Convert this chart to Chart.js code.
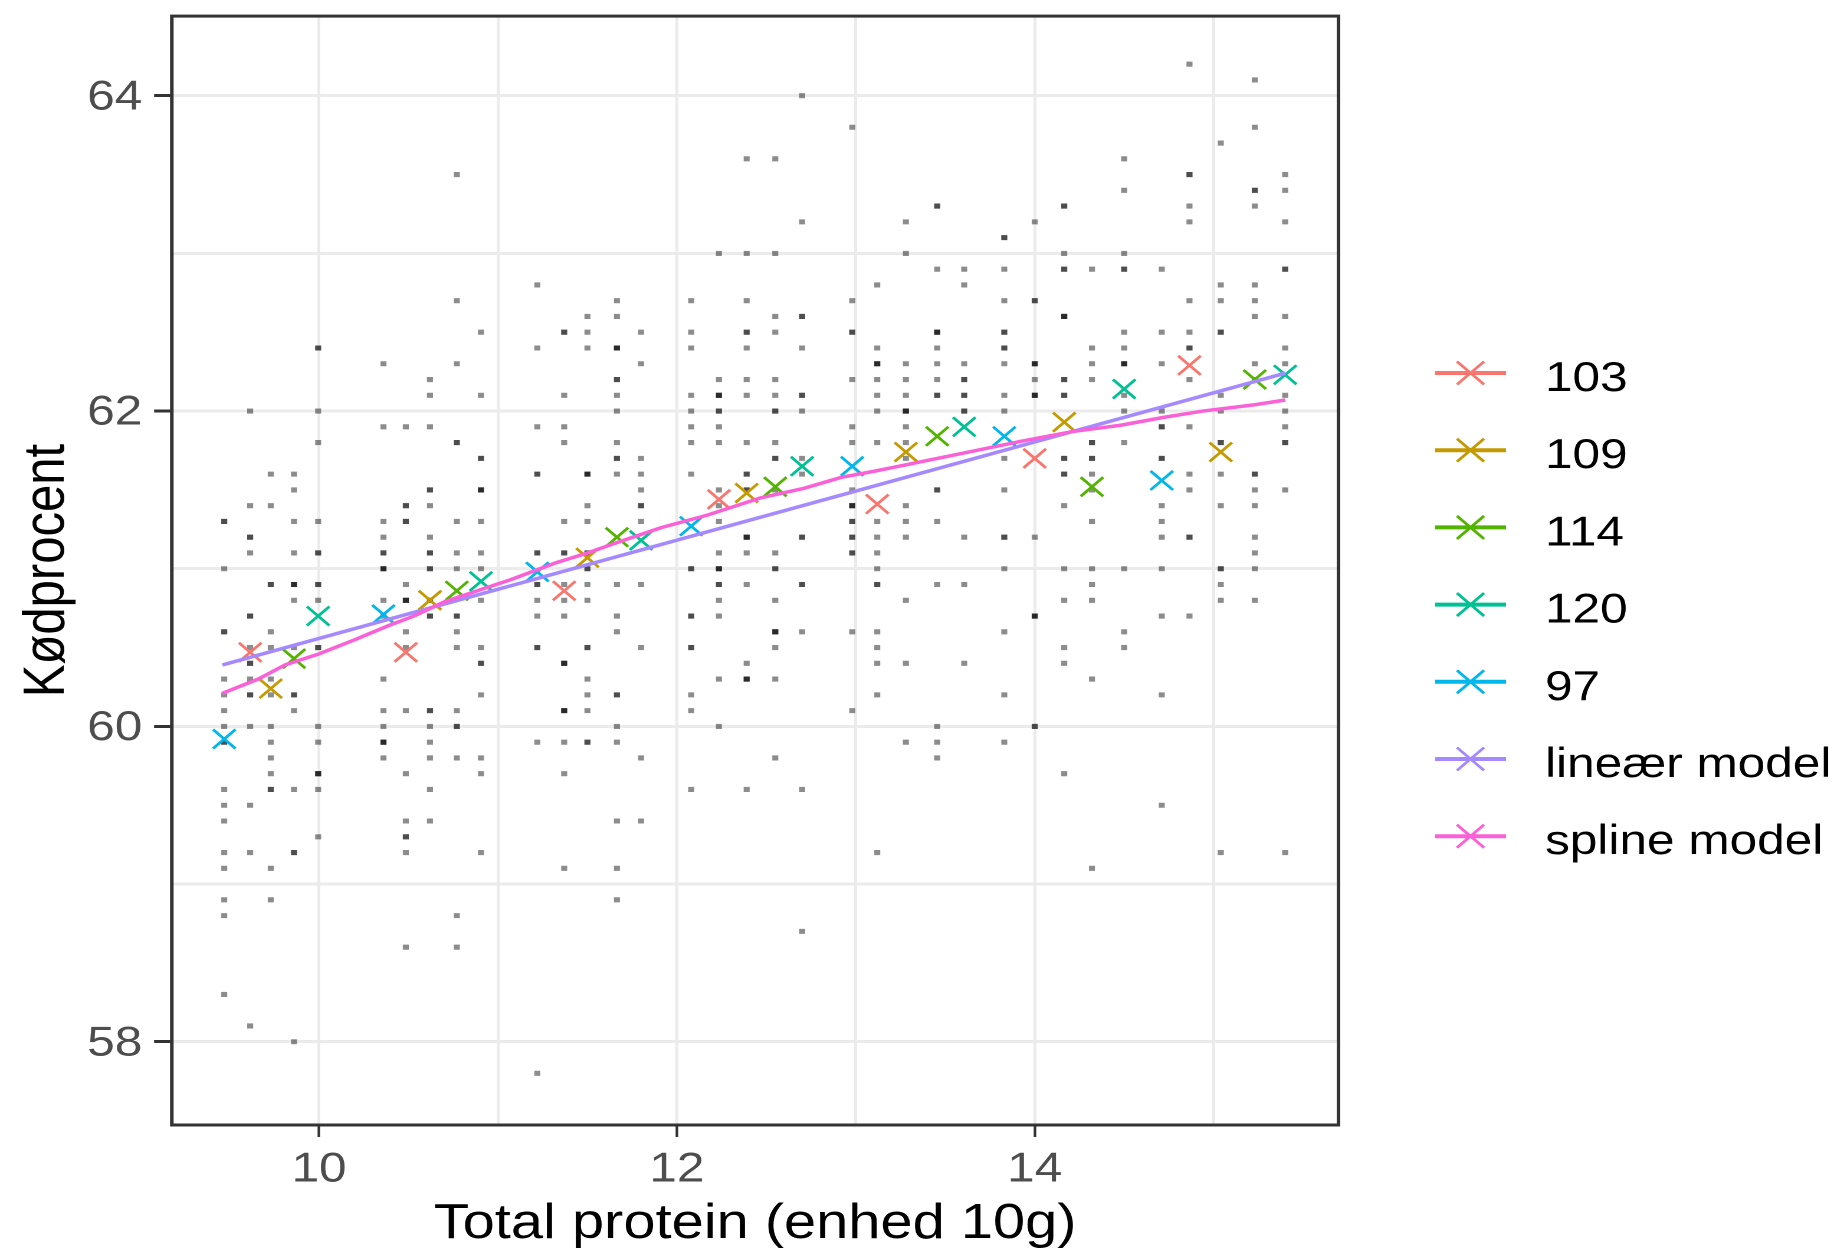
<!DOCTYPE html>
<html>
<head>
<meta charset="utf-8">
<title>Kødprocent vs Total protein</title>
<script src="https://cdn.jsdelivr.net/npm/chart.js@4.4.1/dist/chart.umd.min.js"></script>
<style>
  html, body { margin: 0; padding: 0; background: #ffffff; overflow: hidden; }
  #wrap { position: absolute; left: 0; top: 0; width: 1563px; height: 1252px; transform-origin: 0 0; }
</style>
</head>
<body>
<div id="wrap"><canvas id="chart"></canvas></div>
<script>
// ---------------- DATA ----------------
const xTitle = 'Total protein (enhed 10g)';
const yTitle = 'Kødprocent';

const xMajor = [10, 12, 14];
const xMinor = [11, 13, 15];
const yMajor = [58, 60, 62, 64];
const yMinor = [59, 61, 63];
const xMin = 9.177, xMax = 15.698;
const yMin = 57.472, yMax = 64.505;

const groupLabels = ['103', '109', '114', '120', '97'];
const modelLabels = ['lineær model', 'spline model'];

// group 97
const protein97 = [9.47, 10.36, 11.22, 12.08, 12.98, 13.83, 14.71];
const kod97 = [
  [61.3, 61.3, 61.0, 60.6, 60.6, 60.3, 60.2, 60.1, 60.0, 59.9, 59.9, 59.6, 59.5, 59.4, 59.2, 59.1, 58.9, 58.8, 58.3],
  [62.3, 61.9, 61.3, 61.2, 61.1, 61.1, 61.0, 61.0, 61.0, 60.8, 60.7, 60.3, 60.1, 60.0, 59.9, 59.9, 59.9, 59.8],
  [62.8, 62.4, 61.9, 61.6, 61.6, 61.1, 61.1, 60.9, 60.9, 60.8, 60.7, 60.5, 60.5, 59.9, 57.8],
  [62.7, 62.5, 62.4, 62.1, 62.0, 61.9, 61.8, 61.6, 61.0, 61.0, 60.7, 60.7, 60.5, 60.5, 60.2, 60.1, 59.6],
  [63.8, 62.7, 62.5, 62.5, 62.2, 61.9, 61.8, 61.5, 61.4, 61.4, 61.4, 61.3, 61.3, 61.2, 61.2, 61.1, 61.1, 60.6, 60.1],
  [63.1, 63.1, 62.9, 62.7, 62.5, 62.5, 62.4, 62.4, 62.3, 62.1, 62.0, 61.7, 61.5, 61.2, 61.2, 61.0, 60.6, 60.2, 59.9],
  [62.9, 62.5, 62.3, 62.0, 61.9, 61.9, 61.7, 61.7, 61.4, 61.3, 61.2, 61.0, 60.7, 60.2, 59.5]
];
const mean97 = [59.92, 60.71, 60.98, 61.27, 61.65, 61.84, 61.56];

// group 103
const protein103 = [9.615, 10.485, 11.37, 12.235, 13.12, 14.0, 14.865];
const kod103 = [
  [62.0, 61.4, 61.2, 61.2, 61.1, 60.7, 60.7, 60.5, 60.4, 60.4, 60.3, 60.2, 60.2, 60.0, 59.5, 59.2, 58.1],
  [61.9, 61.4, 61.4, 61.3, 61.3, 60.9, 60.8, 60.8, 60.8, 60.6, 60.5, 60.1, 59.7, 59.4, 59.3, 59.3, 59.2, 58.6],
  [62.5, 62.5, 62.1, 61.9, 61.8, 61.3, 61.1, 61.1, 60.9, 60.8, 60.7, 60.4, 60.4, 60.4, 60.1, 60.1, 60.1, 59.9, 59.7, 59.1],
  [63.0, 62.2, 62.1, 62.1, 62.1, 62.0, 62.0, 61.9, 61.8, 61.5, 61.4, 61.3, 61.1, 61.0, 61.0, 61.0, 60.9, 60.9, 60.8, 60.7, 60.3, 60.0],
  [62.8, 62.4, 62.3, 62.3, 62.3, 62.2, 62.1, 62.0, 61.8, 61.3, 61.2, 61.1, 61.0, 60.9, 60.9, 60.6, 60.5, 60.4, 60.2, 59.2],
  [63.2, 62.7, 62.7, 62.3, 62.3, 62.3, 62.2, 62.1, 62.1, 62.1, 61.2, 60.7, 60.7, 60.7, 60.0, 60.0],
  [64.2, 63.5, 63.5, 63.3, 63.2, 62.7, 62.5, 62.4, 62.4, 62.2, 61.9, 61.6, 61.5, 61.2, 61.2, 60.7]
];
const mean103 = [60.47, 60.47, 60.86, 61.44, 61.41, 61.70, 62.29];

// group 109
const protein109 = [9.73, 10.62, 11.50, 12.39, 13.28, 14.165, 15.04];
const kod109 = [
  [61.6, 61.4, 60.9, 60.9, 60.6, 60.5, 60.3, 60.2, 60.0, 59.9, 59.8, 59.7, 59.6, 59.6, 59.1, 58.9],
  [62.2, 62.1, 61.9, 61.5, 61.5, 61.4, 61.2, 61.1, 61.1, 61.0, 61.0, 60.8, 60.8, 60.7, 60.7, 60.1, 60.1, 60.0, 59.9, 59.8, 59.6, 59.4],
  [62.6, 62.5, 62.4, 61.6, 61.6, 61.6, 61.4, 61.3, 61.1, 61.1, 61.0, 61.0, 60.9, 60.8, 60.5, 60.5, 60.3, 60.2, 60.1, 59.9, 59.9],
  [63.6, 63.0, 62.7, 62.5, 62.5, 62.4, 62.2, 62.1, 61.8, 61.6, 61.6, 61.5, 61.5, 61.2, 61.2, 61.2, 61.1, 60.9, 60.4, 60.3, 60.3, 60.3, 59.6],
  [63.2, 63.0, 62.3, 62.2, 62.1, 62.0, 62.0, 62.0, 61.9, 61.8, 61.7, 61.4, 61.3, 61.2, 60.8, 60.4, 59.9],
  [63.3, 63.3, 63.0, 62.9, 62.9, 62.6, 62.6, 62.6, 62.2, 62.2, 62.1, 62.1, 61.7, 61.7, 61.6, 61.6, 61.4, 61.0, 60.8, 60.5, 60.4, 59.7],
  [63.7, 62.8, 62.7, 62.5, 62.5, 62.1, 62.0, 61.8, 61.8, 61.6, 61.4, 61.0, 61.0, 60.9, 60.8, 59.2]
];
const mean109 = [60.24, 60.80, 61.07, 61.48, 61.74, 61.93, 61.74];

// group 114
const protein114 = [9.86, 10.77, 11.665, 12.55, 13.455, 14.32, 15.23];
const kod114 = [
  [61.6, 61.5, 61.3, 61.1, 60.9, 60.9, 60.9, 60.8, 60.5, 60.2, 60.2, 60.1, 59.6, 59.2, 59.2, 58.0],
  [63.5, 62.7, 62.3, 61.8, 61.8, 61.3, 61.1, 61.0, 60.7, 60.7, 60.6, 60.5, 60.1, 60.0, 60.0, 59.8, 58.8, 58.6],
  [62.7, 62.6, 62.4, 62.4, 62.4, 62.2, 62.2, 62.1, 62.0, 61.8, 61.7, 61.7, 61.6, 60.9, 60.7, 60.6, 60.2, 60.2, 60.0, 59.9, 59.4, 59.1, 58.9],
  [63.6, 63.0, 62.6, 62.5, 62.2, 62.1, 62.0, 62.0, 61.8, 61.7, 61.7, 61.5, 61.1, 61.0, 61.0, 60.8, 60.6, 60.6, 60.6, 60.5, 60.3, 59.8],
  [63.3, 63.3, 62.9, 62.5, 62.5, 62.5, 62.4, 62.3, 62.2, 62.1, 62.1, 61.5, 61.5, 61.3, 60.9, 60.0, 59.9, 59.8],
  [62.9, 62.4, 62.3, 62.2, 61.8, 61.8, 61.7, 61.7, 61.6, 61.5, 61.3, 61.0, 60.9, 60.8, 60.3, 59.1],
  [64.1, 63.8, 63.4, 63.4, 63.3, 62.8, 62.7, 62.6, 62.3, 62.2, 61.6, 61.6, 61.5, 61.4, 61.2, 61.1, 61.0, 60.8]
];
const mean114 = [60.43, 60.86, 61.20, 61.52, 61.84, 61.52, 62.20];

// group 120
const protein120 = [9.995, 10.905, 11.80, 12.70, 13.606, 14.50, 15.40];
const kod120 = [
  [62.4, 62.4, 62.0, 61.8, 61.3, 61.1, 61.1, 60.9, 60.9, 60.8, 60.5, 60.5, 60.0, 59.9, 59.7, 59.7, 59.7, 59.6, 59.3],
  [62.5, 62.1, 61.7, 61.7, 61.5, 61.5, 61.5, 61.3, 61.1, 61.0, 60.8, 60.5, 60.4, 60.4, 60.2, 59.8, 59.7, 59.2],
  [62.5, 62.3, 61.7, 61.6, 61.5, 61.4, 61.4, 61.3, 60.9, 60.5, 59.8, 59.4],
  [64.0, 63.2, 62.6, 62.6, 62.4, 62.1, 62.1, 62.0, 61.7, 61.6, 61.2, 61.2, 60.9, 60.9, 60.6, 59.6, 58.7],
  [62.9, 62.8, 62.3, 62.2, 62.2, 62.1, 62.1, 62.0, 62.0, 61.2, 60.9, 60.4],
  [63.6, 63.4, 63.0, 62.9, 62.9, 62.5, 62.4, 62.3, 62.3, 62.3, 62.1, 62.0, 61.8, 61.0, 60.6, 60.5],
  [63.5, 63.4, 63.2, 62.9, 62.9, 62.6, 62.4, 62.3, 62.1, 62.0, 61.9, 61.8, 61.8, 61.5, 59.2]
];
const mean120 = [60.70, 60.92, 61.18, 61.65, 61.90, 62.14, 62.23];

// models
const linearX = [9.46, 15.40];
const linearY = [60.39, 62.24];
const splineX = [9.46, 9.66, 9.81, 10.0, 10.2, 10.39, 10.53, 10.70, 10.91, 11.07, 11.33, 11.50, 11.65, 11.91,
                 12.17, 12.47, 12.71, 12.92, 13.11, 13.37, 13.63, 13.93, 14.21, 14.48, 14.72, 14.94, 15.23, 15.40];
const splineY = [60.21, 60.30, 60.39, 60.46, 60.55, 60.64, 60.70, 60.79, 60.87, 60.93, 61.04, 61.10, 61.16, 61.26,
                 61.34, 61.45, 61.51, 61.58, 61.62, 61.68, 61.74, 61.81, 61.87, 61.91, 61.96, 62.00, 62.04, 62.07];

// ---------------- STYLES / LAYOUT ----------------
const groupColors = ['#F8766D', '#C49A00', '#53B400', '#00C094', '#00B6EB'];
const modelColors = ['#A58AFF', '#FB61D7'];
const FONT = '"Liberation Sans", Arial, Helvetica, sans-serif';
const SCREEN_W = 1844, CANVAS_W = 1563;
const S = SCREEN_W / CANVAS_W;
document.getElementById('wrap').style.transform = 'scaleX(' + S + ')';

const groups = [
  { protein: protein103, kod: kod103, mean: mean103 },
  { protein: protein109, kod: kod109, mean: mean109 },
  { protein: protein114, kod: kod114, mean: mean114 },
  { protein: protein120, kod: kod120, mean: mean120 },
  { protein: protein97,  kod: kod97,  mean: mean97 }
];

const obs = [];
groups.forEach(g => g.protein.forEach((x, i) => g.kod[i].forEach(y => obs.push({ x: x, y: y }))));

const xGrid = xMajor.concat(xMinor).sort((a, b) => a - b);
const yGrid = yMajor.concat(yMinor).sort((a, b) => a - b);

const datasets = [
  { label: modelLabels[1], data: splineX.map((x, i) => ({ x: x, y: splineY[i] })), showLine: true,
    borderColor: modelColors[1], borderWidth: 3.5, pointRadius: 0, fill: false, order: 0 },
  { label: modelLabels[0], data: linearX.map((x, i) => ({ x: x, y: linearY[i] })), showLine: true,
    borderColor: modelColors[0], borderWidth: 3.5, pointRadius: 0, fill: false, order: 0 }
];
groups.forEach((g, k) => {
  datasets.push({
    label: groupLabels[k],
    data: g.protein.map((x, i) => ({ x: x, y: g.mean[i] })),
    showLine: false, pointStyle: 'crossRot', pointRadius: 13.5,
    pointBorderWidth: 2.6, pointBorderColor: groupColors[k], pointBackgroundColor: groupColors[k],
    order: 1
  });
});
datasets.push({
  label: 'obs', data: obs, showLine: false, pointStyle: 'rect', pointRadius: 3.6,
  pointBorderWidth: 0, pointBackgroundColor: 'rgba(0,0,0,0.45)', pointBorderColor: 'rgba(0,0,0,0)', order: 2
});

const legendItems = groupLabels.map((l, i) => ({ text: l, color: groupColors[i] }))
  .concat(modelLabels.map((l, i) => ({ text: l, color: modelColors[i] })));

const framePlugin = {
  id: 'panelFrame',
  afterDatasetsDraw(chart) {
    const a = chart.chartArea, ctx = chart.ctx;
    ctx.save();
    ctx.strokeStyle = '#333333';
    ctx.lineWidth = 3;
    ctx.strokeRect(a.left, a.top, a.right - a.left, a.bottom - a.top);
    ctx.restore();
  }
};

const legendPlugin = {
  id: 'ggLegend',
  afterDraw(chart) {
    const ctx = chart.ctx;
    const keyStart = 1435 / S, keyEnd = 1506 / S, textX = 1545 / S;
    const y0 = 373, dy = 77.2, half = 11.5;
    ctx.save();
    legendItems.forEach((it, i) => {
      const y = y0 + dy * i;
      const cx = (keyStart + keyEnd) / 2;
      ctx.strokeStyle = it.color;
      ctx.lineCap = 'butt';
      ctx.lineWidth = 4;
      ctx.beginPath(); ctx.moveTo(keyStart, y); ctx.lineTo(keyEnd, y); ctx.stroke();
      ctx.lineWidth = 2.6;
      ctx.beginPath();
      ctx.moveTo(cx - half, y - half); ctx.lineTo(cx + half, y + half);
      ctx.moveTo(cx - half, y + half); ctx.lineTo(cx + half, y - half);
      ctx.stroke();
      ctx.fillStyle = '#000000';
      ctx.font = '42px ' + FONT;
      ctx.textAlign = 'left';
      ctx.textBaseline = 'alphabetic';
      ctx.fillText(it.text, textX, y + 18);
    });
    ctx.restore();
  }
};

new Chart(document.getElementById('chart'), {
  type: 'scatter',
  data: { datasets: datasets },
  plugins: [framePlugin, legendPlugin],
  options: {
    responsive: true,
    maintainAspectRatio: false,
    devicePixelRatio: 2,
    animation: false,
    events: [],
    layout: { padding: { left: 0, right: CANVAS_W - 1338.5 / S, top: 10, bottom: 0 } },
    plugins: { legend: { display: false }, tooltip: { enabled: false } },
    scales: {
      x: {
        type: 'linear', position: 'bottom', min: xMin, max: xMax,
        afterBuildTicks: s => { s.ticks = xGrid.map(v => ({ value: v })); },
        afterFit: s => { s.height = 127; s.paddingLeft = 0; s.paddingRight = 0; },
        border: { display: false },
        grid: {
          color: '#EBEBEB', lineWidth: 2.5, drawTicks: true, tickLength: 12, tickWidth: 2.2,
          tickColor: c => (c.tick && xMajor.includes(c.tick.value)) ? '#333333' : 'rgba(0,0,0,0)'
        },
        ticks: {
          autoSkip: false, maxRotation: 0, minRotation: 0, padding: 7.5, color: '#4D4D4D',
          font: { family: FONT, size: 42 },
          callback: v => xMajor.includes(v) ? String(v) : ''
        },
        title: { display: true, text: xTitle, color: '#000000', font: { family: FONT, size: 49 }, padding: { top: 0, bottom: -2 } }
      },
      y: {
        type: 'linear', position: 'left', min: yMin, max: yMax,
        afterBuildTicks: s => { s.ticks = yGrid.map(v => ({ value: v })); },
        afterFit: s => { s.width = 171.8 / S; s.paddingTop = 0; s.paddingBottom = 0; },
        border: { display: false },
        grid: {
          color: '#EBEBEB', lineWidth: 3, drawTicks: true, tickLength: 15, tickWidth: 3,
          tickColor: c => (c.tick && yMajor.includes(c.tick.value)) ? '#333333' : 'rgba(0,0,0,0)'
        },
        ticks: {
          autoSkip: false, padding: 10, color: '#4D4D4D', labelOffset: 2,
          font: { family: FONT, size: 42 },
          callback: v => yMajor.includes(v) ? String(v) : ''
        },
        title: { display: true, text: yTitle, color: '#000000', font: { family: FONT, size: 49 }, padding: { top: 11, bottom: 0 } }
      }
    }
  }
});
</script>
</body>
</html>
